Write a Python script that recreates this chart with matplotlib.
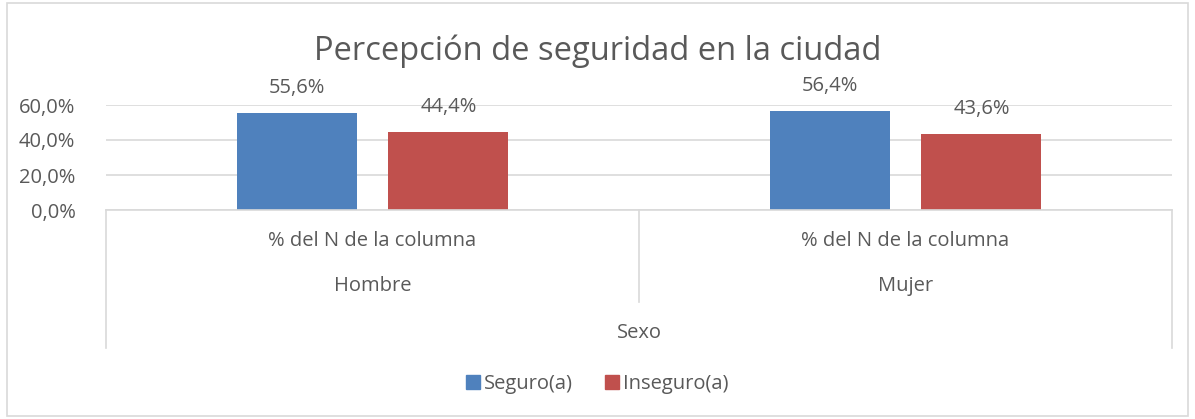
import matplotlib
matplotlib.use('Agg')
import matplotlib.pyplot as plt
import matplotlib.transforms as mtransforms
from matplotlib.patches import Rectangle, Patch
import numpy as np

plt.rcParams['font.family'] = ['Open Sans', 'DejaVu Sans']

categorias = ['Hombre', 'Mujer']
seguro = [55.6, 56.4]
inseguro = [44.4, 43.6]
subetiqueta = '% del N de la columna'
series = ['Seguro(a)', 'Inseguro(a)']
titulo = 'Percepción de seguridad en la ciudad'

W, H = 1195, 419
fig = plt.figure(figsize=(W / 100, H / 100), dpi=100)
txt = '#595959'
grid = '#D9D9D9'
fs = 14.5

# ejes en coordenadas de pixel
x0, x1, y0, y1 = 106, 1172, 210, 105
ax = fig.add_axes([x0 / W, 1 - y0 / H, (x1 - x0) / W, (y0 - y1) / H])

x = np.arange(len(categorias))
w = 0.225
gap = 0.06
b1 = ax.bar(x - (w + gap) / 2, seguro, w, color='#4F81BD', label=series[0])
b2 = ax.bar(x + (w + gap) / 2, inseguro, w, color='#C0504D', label=series[1])

for bars, vals in [(b1, seguro), (b2, inseguro)]:
    for r, v in zip(bars, vals):
        ax.annotate(('%.1f%%' % v).replace('.', ','), (r.get_x() + r.get_width() / 2, v),
                    xytext=(0, 18), textcoords='offset points', ha='center', va='center',
                    fontsize=fs, color=txt, annotation_clip=False)

ax.set_xlim(-0.5, 1.5)
ax.set_ylim(0, 60)
ax.set_yticks([0, 20, 40, 60])
ax.set_yticklabels(['0,0%', '20,0%', '40,0%', '60,0%'])
ax.tick_params(axis='y', length=0, labelsize=fs, labelcolor=txt, pad=22)
ax.set_xticks([])
ax.grid(axis='y', color=grid, linewidth=1.2)
ax.set_axisbelow(True)
for s in ax.spines.values():
    s.set_visible(False)

# lineas y etiquetas de categoria bajo el eje
tr = mtransforms.blended_transform_factory(ax.transData, fig.transFigure)
fy = lambda py: 1 - py / H
kw = dict(transform=tr, color=grid, linewidth=1.2, clip_on=False)
fig.add_artist(plt.Line2D([-0.5, 1.5], [fy(210), fy(210)], **kw))
fig.add_artist(plt.Line2D([-0.5, -0.5], [fy(210), fy(348)], **kw))
fig.add_artist(plt.Line2D([1.5, 1.5], [fy(210), fy(348)], **kw))
fig.add_artist(plt.Line2D([0.5, 0.5], [fy(210), fy(302)], **kw))
for i, c in enumerate(categorias):
    fig.text(i, fy(241), subetiqueta, transform=tr, ha='center', va='center', fontsize=fs, color=txt)
    fig.text(i, fy(286), c, transform=tr, ha='center', va='center', fontsize=fs, color=txt)
fig.text(0.5, fy(333), 'Sexo', transform=tr, ha='center', va='center', fontsize=fs, color=txt)

fig.text(0.5, fy(51), titulo, ha='center', va='center', fontsize=23.5, color=txt)

handles = [Patch(color='#4F81BD'), Patch(color='#C0504D')]
fig.legend(handles, series, loc='center', bbox_to_anchor=(0.5, fy(384)), ncol=2, frameon=False,
           fontsize=fs, labelcolor=txt, handlelength=0.7, handleheight=0.7, handletextpad=0.2,
           columnspacing=1.6)

# borde del grafico
fig.add_artist(Rectangle((7 / W, 3 / H), (W - 14) / W, (H - 6) / H, transform=fig.transFigure,
                         fill=False, edgecolor=grid, linewidth=1.2))

fig.savefig('out.png', dpi=100)
